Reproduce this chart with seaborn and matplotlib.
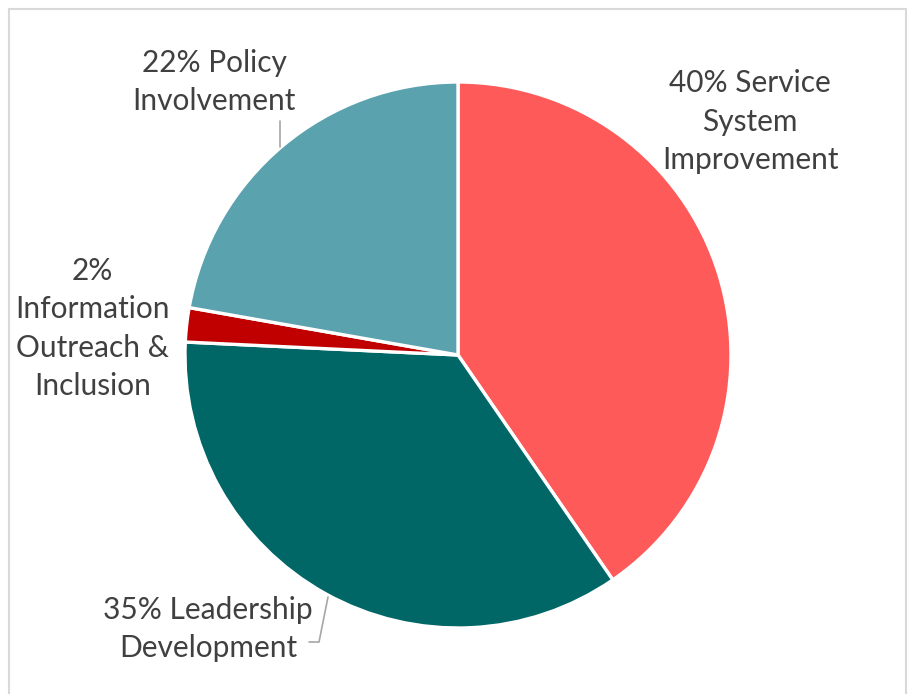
import numpy as np
import matplotlib
matplotlib.use("Agg")
from matplotlib import pyplot as plt
import seaborn as sns

categories = ['Service System Improvement', 'Leadership Development',
              'Information Outreach & Inclusion', 'Policy Involvement']
shares = [40, 35, 2, 22]
labels = ['40% Service\nSystem\nImprovement',
          '35% Leadership\nDevelopment',
          '2%\nInformation\nOutreach &\nInclusion',
          '22% Policy\nInvolvement']
colors = ['#FF5A5A', '#006666', '#C00000', '#5AA2AE']

sns.set_theme(style='white')
plt.rcParams['font.family'] = ['Lato', 'DejaVu Sans']

W, H = 911, 694
cx, cy, R = 458, 355, 273  # pie centre / radius in pixels

fig = plt.figure(figsize=(W / 100, H / 100), dpi=100)
ax = fig.add_axes([0, 0, 1, 1])
wedges, _ = ax.pie(shares, colors=colors, startangle=90, counterclock=False,
                   radius=1, wedgeprops=dict(edgecolor='white', linewidth=2.4))
ax.set_xlim(-cx / R, (W - cx) / R)
ax.set_ylim(-(H - cy) / R, cy / R)
ax.set_aspect('equal')
ax.axis('off')

# label centres in pie units (radius = 1)
label_pos = [(1.07, 0.855), (-0.915, -1.005), (-1.338, 0.097), (-0.893, 1.0)]
for txt, (x, y) in zip(labels, label_pos):
    ax.text(x, y, txt, ha='center', va='center', fontsize=21.5,
            color='#404040', linespacing=1.44)

# leader lines
gray = '#A6A6A6'
px = lambda x, y: ((x - cx) / R, (cy - y) / R)
ax.plot(*zip(px(280, 121), px(280, 147)), color=gray, lw=1.2)
ax.plot(*zip(px(328, 597), px(319, 642), px(309, 642)), color=gray, lw=1.2)

# outer chart border
fig.patches.append(plt.Rectangle((9 / W, -0.01), (906 - 9) / W, 1 - 9 / H + 0.01,
                                 transform=fig.transFigure, fill=False,
                                 edgecolor='#D9D9D9', lw=1.5))

fig.savefig('out.png', dpi=100)
